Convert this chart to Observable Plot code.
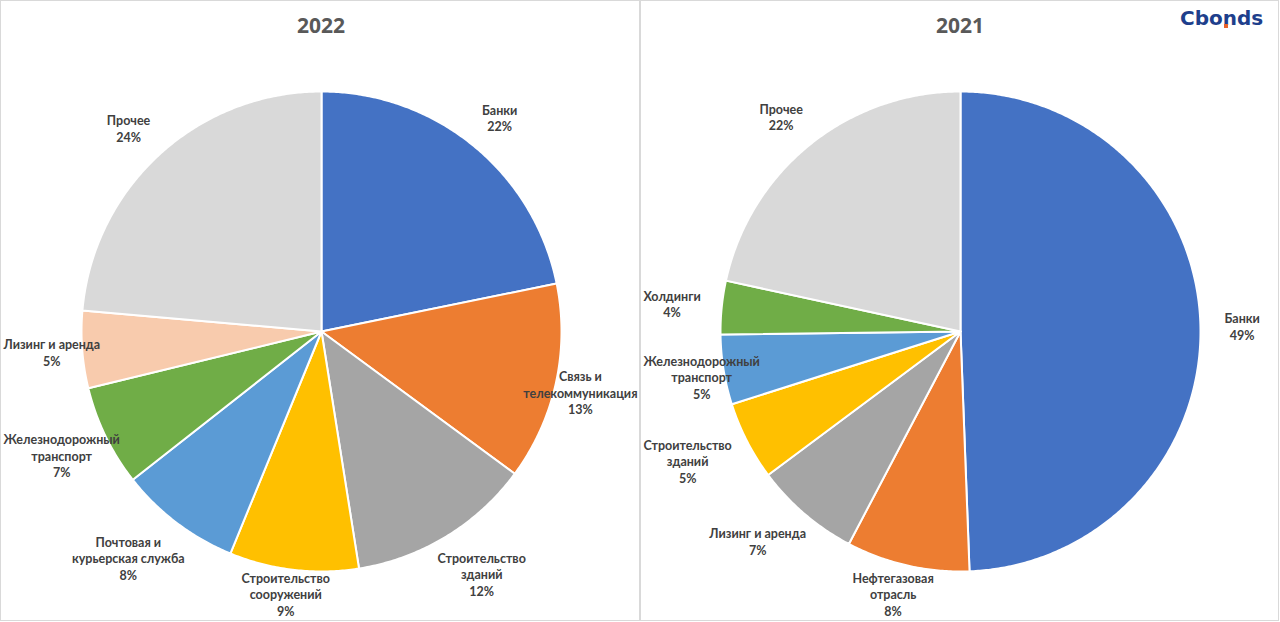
<!DOCTYPE html>
<html><head><meta charset="utf-8">
<script src="https://cdn.jsdelivr.net/npm/d3@7"></script>
<script src="https://cdn.jsdelivr.net/npm/@observablehq/plot@0.6"></script>
<style>
body{margin:0;background:#fff;}
#wrap{position:relative;width:1280px;height:622px;overflow:hidden;background:#fff;}
.panel{position:absolute;top:0;height:621px;box-sizing:border-box;border:1px solid #d9d9d9;}
.title{position:absolute;top:11px;font:bold 21px "Open Sans",sans-serif;color:#595959;transform:translateX(-50%);}
.chart{position:absolute;top:0;}
#logo{position:absolute;left:1180px;top:6px;font:bold 20px "DejaVu Sans",sans-serif;color:#1e3f8c;letter-spacing:0px;}
#dot{position:absolute;left:1224px;top:24px;width:4px;height:4px;background:#e8632b;}
</style></head><body>
<div id="wrap">
  <div class="panel" style="left:0;width:640px;"></div>
  <div class="panel" style="left:640px;width:639px;"></div>
  <div id="c2022" class="chart" style="left:0;"></div>
  <div id="c2021" class="chart" style="left:640px;"></div>
  <div class="title" style="left:321px;">2022</div>
  <div class="title" style="left:960px;">2021</div>
  <div id="logo">Cbonds</div><div id="dot"></div>
</div>
<script>
// ---- data ----
const categories2022 = ["Банки", "Связь и\nтелекоммуникация", "Строительство\nзданий", "Строительство\nсооружений", "Почтовая и\nкурьерская служба", "Железнодорожный\nтранспорт", "Лизинг и аренда", "Прочее"];
const values2022 = [21.8, 13.3, 12.4, 8.7, 8.2, 6.8, 5.2, 23.6];
const colors2022 = ["#4472C4", "#ED7D31", "#A5A5A5", "#FFC000", "#5B9BD5", "#70AD47", "#F8CBAD", "#D9D9D9"];

const categories2021 = ["Банки", "Нефтегазовая\nотрасль", "Лизинг и аренда", "Строительство\nзданий", "Железнодорожный\nтранспорт", "Холдинги", "Прочее"];
const values2021 = [49.4, 8.3, 7.1, 5.3, 4.7, 3.6, 21.6];
const colors2021 = ["#4472C4", "#ED7D31", "#A5A5A5", "#FFC000", "#5B9BD5", "#70AD47", "#D9D9D9"];

// ---- drawing ----
const W = 640, H = 622, R = 240, CY = 331;
const FONT = "Lato", FS = 12.5, LH = 1.32;
const ctx = document.createElement("canvas").getContext("2d");
ctx.font = `bold ${FS}px "${FONT}"`;

function pie(cats, vals, cols, cx) {
  const total = d3.sum(vals);
  const pts = [], labels = [];
  let acc = 0;
  cats.forEach((c, i) => {
    const a0 = acc / total * 2 * Math.PI;
    acc += vals[i];
    const a1 = acc / total * 2 * Math.PI;
    pts.push({k: i, x: 0, y: 0});
    const n = Math.max(2, Math.ceil((a1 - a0) / (Math.PI / 360)));
    for (let j = 0; j <= n; j++) {
      const a = a0 + (a1 - a0) * j / n;
      pts.push({k: i, x: Math.sin(a), y: Math.cos(a)});
    }
    const text = c + "\n" + Math.round(vals[i] / total * 100) + "%";
    const lines = text.split("\n");
    const w = d3.max(lines, l => ctx.measureText(l).width);
    const h = lines.length * FS * LH;
    const m = (a0 + a1) / 2;
    let px = R * 1.1 * Math.sin(m) + Math.sin(m) * w / 2;
    let py = -R * 1.08 * Math.cos(m) - Math.cos(m) * h / 2;
    px = Math.max(-cx + w / 2 + 3, Math.min(W - cx - w / 2 - 3, px));
    py = Math.max(-CY + 45 + h / 2, Math.min(H - 2 - CY - h / 2 - 2, py));
    labels.push({x: px / R, y: -py / R, text});
  });
  return Plot.plot({
    width: W, height: H, margin: 0,
    x: {domain: [-cx / R, (W - cx) / R], axis: null},
    y: {domain: [-(H - CY) / R, CY / R], axis: null},
    color: {type: "identity"},
    style: {background: "transparent", overflow: "visible"},
    marks: [
      Plot.line(pts, {x: "x", y: "y", z: "k", fill: d => cols[d.k], stroke: "white", strokeWidth: 2, curve: "linear-closed"}),
      Plot.text(labels, {x: "x", y: "y", text: "text", fontSize: FS, fontWeight: "bold", fontFamily: FONT, fill: "#404040", lineHeight: LH, lineAnchor: "middle", textAnchor: "middle"})
    ]
  });
}

document.getElementById("c2022").append(pie(categories2022, values2022, colors2022, 321));
document.getElementById("c2021").append(pie(categories2021, values2021, colors2021, 320));
</script>
</body></html>
